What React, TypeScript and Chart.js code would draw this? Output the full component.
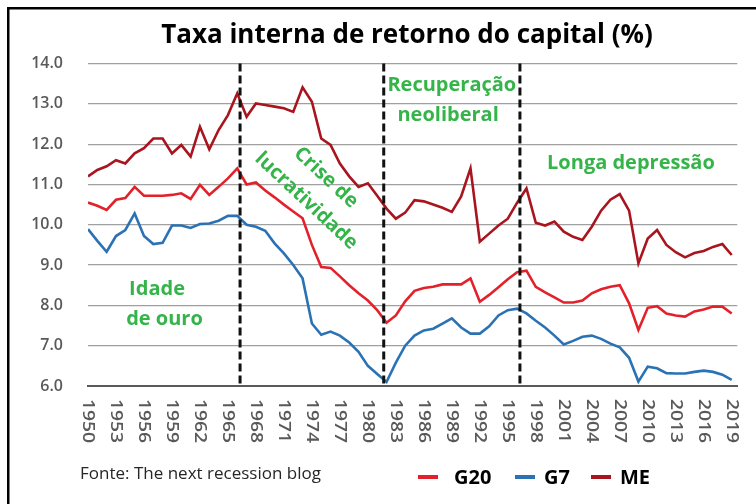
import { useEffect, useRef } from "react";
import { Chart, registerables } from "chart.js";

Chart.register(...registerables);

const years = [
  1950, 1951, 1952, 1953, 1954, 1955, 1956, 1957, 1958, 1959,
  1960, 1961, 1962, 1963, 1964, 1965, 1966, 1967, 1968, 1969,
  1970, 1971, 1972, 1973, 1974, 1975, 1976, 1977, 1978, 1979,
  1980, 1981, 1982, 1983, 1984, 1985, 1986, 1987, 1988, 1989,
  1990, 1991, 1992, 1993, 1994, 1995, 1996, 1997, 1998, 1999,
  2000, 2001, 2002, 2003, 2004, 2005, 2006, 2007, 2008, 2009,
  2010, 2011, 2012, 2013, 2014, 2015, 2016, 2017, 2018, 2019,
];

const xTickYears = [
  1950, 1953, 1956, 1959, 1962, 1965, 1968, 1971, 1974, 1977, 1980, 1983,
  1986, 1989, 1992, 1995, 1998, 2001, 2004, 2007, 2010, 2013, 2016, 2019,
];

const g20 = [
  10.55, 10.47, 10.37, 10.62, 10.66, 10.94, 10.72, 10.72, 10.72, 10.74,
  10.78, 10.64, 10.99, 10.74, 10.94, 11.15, 11.4, 11.0, 11.05, 10.85,
  10.68, 10.5, 10.33, 10.16, 9.5, 8.95, 8.93, 8.72, 8.5, 8.3,
  8.12, 7.88, 7.57, 7.75, 8.1, 8.36, 8.43, 8.46, 8.52, 8.52,
  8.52, 8.67, 8.09, 8.26, 8.45, 8.65, 8.82, 8.86, 8.46, 8.32,
  8.2, 8.07, 8.07, 8.12, 8.3, 8.4, 8.46, 8.5, 8.05, 7.39,
  7.94, 7.98, 7.8, 7.75, 7.72, 7.85, 7.9, 7.97, 7.97, 7.8,
];

const g7 = [
  9.89, 9.6, 9.33, 9.72, 9.87, 10.28, 9.72, 9.52, 9.55, 9.98,
  9.98, 9.92, 10.02, 10.03, 10.1, 10.22, 10.22, 10.0, 9.95, 9.85,
  9.54, 9.29, 9.0, 8.67, 7.55, 7.27, 7.35, 7.25, 7.08, 6.85,
  6.5, 6.3, 6.1, 6.58, 7.0, 7.25, 7.38, 7.42, 7.55, 7.68,
  7.45, 7.3, 7.3, 7.48, 7.75, 7.88, 7.92, 7.8, 7.62, 7.45,
  7.25, 7.03, 7.12, 7.22, 7.25, 7.17, 7.05, 6.96, 6.7, 6.11,
  6.48, 6.44, 6.32, 6.31, 6.31, 6.35, 6.38, 6.35, 6.28, 6.15,
];

const me = [
  11.2, 11.36, 11.45, 11.6, 11.52, 11.77, 11.9, 12.14, 12.14, 11.77,
  11.98, 11.69, 12.43, 11.87, 12.35, 12.72, 13.26, 12.68, 13.01, 12.97,
  12.93, 12.89, 12.8, 13.41, 13.05, 12.14, 11.98, 11.52, 11.2, 10.94,
  11.03, 10.72, 10.4, 10.15, 10.3, 10.61, 10.58, 10.5, 10.42, 10.32,
  10.7, 11.4, 9.58, 9.78, 9.98, 10.15, 10.55, 10.9, 10.05, 9.98,
  10.08, 9.83, 9.7, 9.62, 9.95, 10.35, 10.62, 10.76, 10.35, 9.04,
  9.66, 9.87, 9.5, 9.32, 9.19, 9.3, 9.35, 9.45, 9.52, 9.25,
];

const periodBreaks = [1966.3, 1981.7, 1996.3];

const seriesNames = ["G20", "G7", "ME"];
const seriesColors = ["#e3212b", "#2b72b5", "#a8151e"];

const titleText = "Taxa interna de retorno do capital (%)";
const sourceText = "Fonte: The next recession blog";

const GREEN = "#35b44a";
const FONT = '"Open Sans", "Noto Sans", sans-serif';

// annotation anchors in data coordinates (year, value)
const notes = [
  { text: "Idade", year: 1957.4, value: 8.41, rot: 0 },
  { text: "de ouro", year: 1958.2, value: 7.66, rot: 0 },
  { text: "Recuperação", year: 1989.0, value: 13.47, rot: 0 },
  { text: "neoliberal", year: 1988.6, value: 12.72, rot: 0 },
  { text: "Longa depressão", year: 2008.2, value: 11.53, rot: 0 },
  { text: "Crise de", year: 1975.5, value: 11.17, rot: 43 },
  { text: "lucratividade", year: 1973.4, value: 10.59, rot: 43 },
];

const overlay = {
  id: "overlay",
  beforeDraw(chart: any) {
    const ctx = chart.ctx;
    ctx.save();
    ctx.fillStyle = "#ffffff";
    ctx.fillRect(0, 0, chart.width, chart.height);
    ctx.fillStyle = "#000000";
    ctx.fillRect(7, 7, chart.width - 7, 2.5);
    ctx.fillRect(7, 7, 2.5, chart.height - 7);
    ctx.restore();
  },
  afterDatasetsDraw(chart: any) {
    const ctx = chart.ctx;
    const xs = chart.scales.x;
    const ys = chart.scales.y;
    ctx.save();
    // period separators
    ctx.strokeStyle = "#111111";
    ctx.lineWidth = 3;
    ctx.setLineDash([8, 4]);
    for (const yr of periodBreaks) {
      const px = xs.getPixelForValue(yr);
      ctx.beginPath();
      ctx.moveTo(px, ys.getPixelForValue(14));
      ctx.lineTo(px, ys.getPixelForValue(6));
      ctx.stroke();
    }
    ctx.setLineDash([]);
    // annotations
    ctx.fillStyle = GREEN;
    ctx.font = `bold 20px ${FONT}`;
    ctx.textAlign = "center";
    ctx.textBaseline = "middle";
    for (const n of notes) {
      const px = xs.getPixelForValue(n.year);
      const py = ys.getPixelForValue(n.value);
      ctx.save();
      ctx.translate(px, py);
      ctx.rotate((n.rot * Math.PI) / 180);
      ctx.fillText(n.text, 0, 0);
      ctx.restore();
    }
    ctx.restore();
  },
  afterDraw(chart: any) {
    const ctx = chart.ctx;
    const xs = chart.scales.x;
    const area = chart.chartArea;
    ctx.save();
    // title
    ctx.fillStyle = "#000000";
    ctx.font = `bold 26px ${FONT}`;
    ctx.textAlign = "center";
    ctx.textBaseline = "alphabetic";
    ctx.fillText(titleText, 407, 43);

    // x tick labels, rotated clockwise
    ctx.fillStyle = "#595959";
    ctx.font = `600 16px ${FONT}`;
    ctx.textAlign = "left";
    ctx.textBaseline = "middle";
    for (const yr of xTickYears) {
      const px = xs.getPixelForValue(yr);
      ctx.save();
      ctx.translate(px, area.bottom + 13);
      ctx.rotate(Math.PI / 2);
      ctx.scale(1.2, 1);
      ctx.fillText(String(yr), 0, 0);
      ctx.restore();
    }

    // source
    ctx.fillStyle = "#262626";
    ctx.font = `17px ${FONT}`;
    ctx.textBaseline = "alphabetic";
    ctx.textAlign = "left";
    ctx.fillText(sourceText, 80, 479);

    // legend
    const swatchX = [418, 515, 591];
    const textX = [454, 544, 620];
    ctx.font = `bold 20px ${FONT}`;
    chart.data.datasets.forEach((ds: any, i: number) => {
      ctx.strokeStyle = ds.borderColor;
      ctx.lineWidth = 4;
      ctx.beginPath();
      ctx.moveTo(swatchX[i], 477);
      ctx.lineTo(swatchX[i] + 20, 477);
      ctx.stroke();
      ctx.fillStyle = "#000000";
      ctx.fillText(ds.label, textX[i], 484);
    });
    ctx.restore();
  },
};

export default function App() {
  const ref = useRef<HTMLCanvasElement | null>(null);

  useEffect(() => {
    if (!ref.current) return;
    const datasets = [g20, g7, me].map((vals, i) => ({
      label: seriesNames[i],
      data: years.map((yr, j) => ({ x: yr, y: vals[j] })),
      borderColor: seriesColors[i],
      backgroundColor: seriesColors[i],
      borderWidth: 2.6,
      pointRadius: 0,
      tension: 0,
      fill: false,
    }));
    const chart = new Chart(ref.current, {
      type: "line",
      data: { datasets },
      options: {
        animation: false,
        responsive: true,
        maintainAspectRatio: false,
        layout: { padding: { left: 0, right: 18.7, top: 63.5, bottom: 0 } },
        plugins: {
          legend: { display: false },
          tooltip: { enabled: false },
          title: { display: false },
        },
        scales: {
          x: {
            type: "linear",
            min: 1950,
            max: 2019.6,
            grid: { display: false, drawTicks: false },
            border: { display: true, color: "#595959", width: 2 },
            ticks: { display: false },
            afterFit: (s: any) => {
              s.height = 118;
            },
          },
          y: {
            min: 6,
            max: 14,
            grid: { color: "#a0a0a0", lineWidth: 1.2, drawTicks: false },
            border: { display: false },
            ticks: {
              stepSize: 1,
              padding: 25,
              color: "#595959",
              font: { family: FONT, size: 16, weight: "600" },
              callback: (v: any) => Number(v).toFixed(1),
            },
            afterFit: (s: any) => {
              s.width = 88;
            },
          },
        },
      },
      plugins: [overlay],
    });
    return () => chart.destroy();
  }, []);

  return (
    <div style={{ position: "absolute", left: 0, top: 0, width: 756, height: 504 }}>
      <canvas ref={ref} />
    </div>
  );
}
